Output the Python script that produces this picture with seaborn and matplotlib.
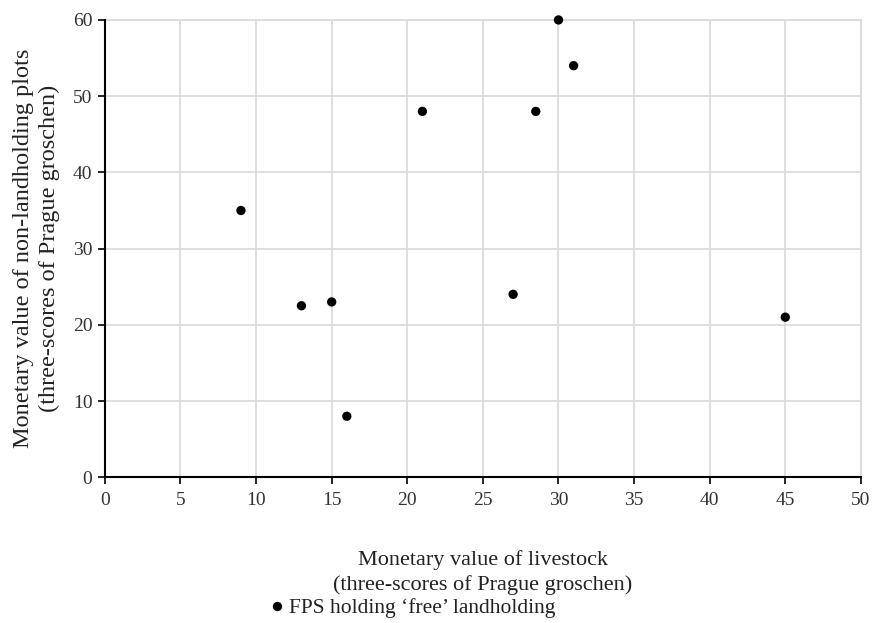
import matplotlib
matplotlib.use("Agg")
import matplotlib.pyplot as plt
import seaborn as sns
import pandas as pd

livestock = [9, 13, 15, 16, 21, 27, 28.5, 30, 31, 45]
non_landholding = [35, 22.5, 23, 8, 48, 24, 48, 60, 54, 21]
series_label = "FPS holding \u2018free\u2019 landholding"
x_ticks = [0, 5, 10, 15, 20, 25, 30, 35, 40, 45, 50]
y_ticks = [0, 10, 20, 30, 40, 50, 60]

df = pd.DataFrame({"x": livestock, "y": non_landholding, "s": series_label})

sns.set_style("white")
plt.rcParams["font.family"] = ["Liberation Serif", "DejaVu Serif"]

fig = plt.figure(figsize=(8.74, 6.23), dpi=100)
ax = fig.add_axes([0.120, 0.234, 0.865, 0.734])

sns.scatterplot(data=df, x="x", y="y", hue="s", palette=["black"], s=45,
                edgecolor="black", linewidth=0, ax=ax, zorder=3, clip_on=False)

ax.set_xlim(0, 50)
ax.set_ylim(0, 60)
ax.set_xticks(x_ticks)
ax.set_yticks(y_ticks)
ax.grid(True, color="#d9d9d9", linewidth=1.2)
ax.set_axisbelow(True)
for side in ["top", "right"]:
    ax.spines[side].set_color("#d9d9d9")
    ax.spines[side].set_linewidth(1.2)
for side in ["left", "bottom"]:
    ax.spines[side].set_color("black")
    ax.spines[side].set_linewidth(1.5)
    ax.spines[side].set_zorder(4)
ax.tick_params(axis="both", which="both", direction="out", length=5, width=1.2,
               color="black", labelsize=14, labelcolor="#333333", left=True, bottom=True)
ax.tick_params(axis="x", pad=6)
ax.tick_params(axis="y", pad=4)

ax.set_xlabel("Monetary value of livestock\n(three-scores of Prague groschen)",
              fontsize=16, color="#222222", linespacing=1.35)
ax.set_ylabel("Monetary value of non-landholding plots\n(three-scores of Prague groschen)",
              fontsize=17.5, color="#222222", labelpad=9, linespacing=1.3)
ax.xaxis.set_label_coords(0.50, -0.160)

leg = ax.legend(loc="center", frameon=False, fontsize=15.5, handletextpad=0.05,
                handlelength=1.0, markerscale=1.0)
leg.set_bbox_to_anchor((0.47, 0.024), transform=fig.transFigure)
for t in leg.get_texts():
    t.set_color("#222222")

fig.savefig("out.png", dpi=100)
